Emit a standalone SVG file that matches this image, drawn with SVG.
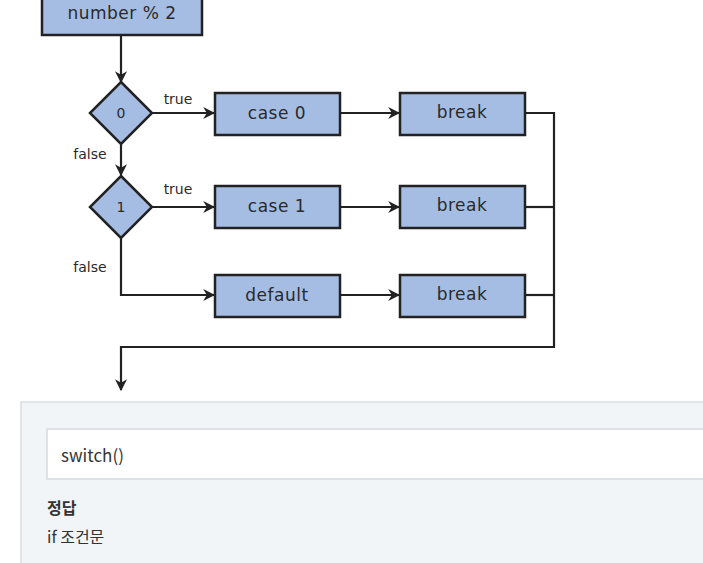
<svg xmlns="http://www.w3.org/2000/svg" width="703" height="563" viewBox="0 0 703 563">
<defs>
<marker id="arr" viewBox="0 0 10 10" refX="9" refY="5" markerWidth="12" markerHeight="12" markerUnits="userSpaceOnUse" orient="auto">
<path d="M0,0 L10,5 L0,10 L3,5 Z" fill="#222"/>
</marker>
<style>
.box{fill:#a5bde3;stroke:#222;stroke-width:2.5}
.lbl{font-family:"DejaVu Sans",sans-serif;font-size:17px;fill:#2a2a2a;text-anchor:middle;letter-spacing:0.5px}
.sm{font-family:"DejaVu Sans",sans-serif;font-size:14px;fill:#2a2a2a;text-anchor:middle}
.ln{fill:none;stroke:#222;stroke-width:2.2}
.kr{font-family:"Noto Sans CJK KR","Noto Sans",sans-serif;fill:#333}
</style>
</defs>
<rect width="703" height="563" fill="#fff"/>
<g id="connectors">
<line class="ln" x1="121" y1="35" x2="121" y2="82" marker-end="url(#arr)"/>
<line class="ln" x1="152" y1="113" x2="214" y2="113" marker-end="url(#arr)"/>
<line class="ln" x1="340" y1="113" x2="399" y2="113" marker-end="url(#arr)"/>
<line class="ln" x1="121" y1="144" x2="121" y2="175" marker-end="url(#arr)"/>
<line class="ln" x1="152" y1="207" x2="214" y2="207" marker-end="url(#arr)"/>
<line class="ln" x1="340" y1="207" x2="399" y2="207" marker-end="url(#arr)"/>
<polyline class="ln" points="121,237 121,295 214,295" marker-end="url(#arr)"/>
<line class="ln" x1="340" y1="295" x2="399" y2="295" marker-end="url(#arr)"/>
<polyline class="ln" points="525,113 554,113 554,347 121,347 121,390" marker-end="url(#arr)"/>
<line class="ln" x1="525" y1="207" x2="554" y2="207"/>
<line class="ln" x1="525" y1="295" x2="554" y2="295"/>
<text class="sm" x="178" y="104">true</text>
<text class="sm" x="178" y="194">true</text>
<text class="sm" x="90" y="159">false</text>
<text class="sm" x="90" y="272">false</text>
</g>
<g id="start"><rect class="box" x="42" y="-8" width="160" height="43"/><text class="lbl" x="122" y="19">number % 2</text></g>
<g id="d0"><polygon class="box" points="121,82 152,113 121,144 90,113"/><text class="sm" x="121" y="118">0</text></g>
<g id="d1"><polygon class="box" points="121,176 152,207 121,238 90,207"/><text class="sm" x="121" y="212">1</text></g>
<g id="case0"><rect class="box" x="215" y="93" width="125" height="42"/><text class="lbl" x="277" y="119">case 0</text></g>
<g id="case1"><rect class="box" x="215" y="186" width="125" height="42"/><text class="lbl" x="277" y="212">case 1</text></g>
<g id="default"><rect class="box" x="215" y="275" width="125" height="42"/><text class="lbl" x="277" y="301">default</text></g>
<g id="break0"><rect class="box" x="400" y="93" width="125" height="42"/><text class="lbl" x="462" y="118">break</text></g>
<g id="break1"><rect class="box" x="400" y="186" width="125" height="42"/><text class="lbl" x="462" y="211">break</text></g>
<g id="break2"><rect class="box" x="400" y="275" width="125" height="42"/><text class="lbl" x="462" y="300">break</text></g>
<g id="panel">
<rect x="21" y="402" width="700" height="180" fill="#f2f5f8" stroke="#dadee2" stroke-width="1.5"/>
<rect x="47" y="429" width="680" height="50" fill="#fff" stroke="#d6dade" stroke-width="1.5"/>
<text class="kr" x="61" y="462" font-size="17">switch()</text>
<text class="kr" x="47" y="514" font-size="16" font-weight="bold">정답</text>
<text class="kr" x="47" y="543" font-size="16">if 조건문</text>
</g>
</svg>
